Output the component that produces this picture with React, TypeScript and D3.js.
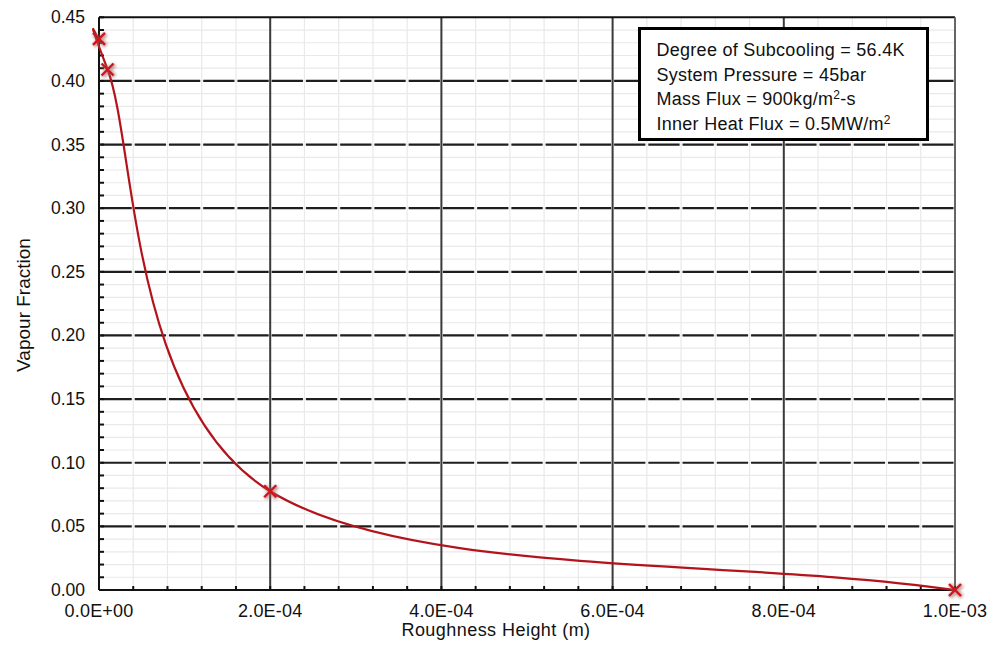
import React from "react";
import * as d3 from "d3";

const roughness = [0, 1e-5, 2e-4, 1e-3];
const vapourFraction = [0.433, 0.409, 0.0776, 0.0];

const xTickValues = [0, 2e-4, 4e-4, 6e-4, 8e-4, 1e-3];
const xTickLabels = ["0.0E+00", "2.0E-04", "4.0E-04", "6.0E-04", "8.0E-04", "1.0E-03"];
const yTickValues = [0, 0.05, 0.1, 0.15, 0.2, 0.25, 0.3, 0.35, 0.4, 0.45];
const yTickLabels = ["0.00", "0.05", "0.10", "0.15", "0.20", "0.25", "0.30", "0.35", "0.40", "0.45"];

const W = 1003;
const H = 655;
const L = 99, R = 955, T = 17.3, B = 590;
const FONT = "'Liberation Sans', Arial, Helvetica, sans-serif";

// Excel-style smoothed line (uniform Catmull-Rom, reflected end points)
function excelSmooth(context: any) {
  let pts: number[][] = [];
  return {
    areaStart() {},
    areaEnd() {},
    lineStart() { pts = []; },
    point(x: number, y: number) { pts.push([+x, +y]); },
    lineEnd() {
      const n = pts.length;
      if (!n) return;
      context.moveTo(pts[0][0], pts[0][1]);
      if (n === 2) { context.lineTo(pts[1][0], pts[1][1]); return; }
      for (let i = 0; i < n - 1; i++) {
        const p1 = pts[i], p2 = pts[i + 1];
        const p0 = i > 0 ? pts[i - 1] : [2 * p1[0] - p2[0], 2 * p1[1] - p2[1]];
        const p3 = i + 2 < n ? pts[i + 2] : [2 * p2[0] - p1[0], 2 * p2[1] - p1[1]];
        context.bezierCurveTo(
          p1[0] + (p2[0] - p0[0]) / 6, p1[1] + (p2[1] - p0[1]) / 6,
          p2[0] - (p3[0] - p1[0]) / 6, p2[1] - (p3[1] - p1[1]) / 6,
          p2[0], p2[1]
        );
      }
    },
  };
}

export default function App() {
  const x = d3.scaleLinear().domain([0, 1e-3]).range([L, R]);
  const y = d3.scaleLinear().domain([0, 0.45]).range([B, T]);

  const minorX = d3.range(0, 26).map((i) => i * 0.4e-4);
  const minorY = d3.range(0, 46).map((i) => i * 0.01);

  const data = roughness.map((r, i) => [r, vapourFraction[i]] as [number, number]);
  const line = d3.line<[number, number]>()
    .x((d) => x(d[0]))
    .y((d) => y(d[1]))
    .curve(excelSmooth as any);

  const minorStep = x(0.4e-4) - x(0);
  const gap = 3;

  return (
    <svg width={W} height={H} style={{ position: "absolute", left: 0, top: 0, background: "#fff" }} fontFamily={FONT}>
      <defs>
        <filter id="halo" x="-50%" y="-50%" width="200%" height="200%">
          <feGaussianBlur in="SourceGraphic" stdDeviation="1.6" />
        </filter>
      </defs>
      {/* minor grid */}
      <g stroke="#e9e9e9" strokeWidth={1.2}>
        {minorX.map((v, i) => (
          <line key={"mx" + i} x1={x(v)} x2={x(v)} y1={T} y2={B} />
        ))}
        {minorY.map((v, i) => (
          <line key={"my" + i} x1={L} x2={R} y1={y(v)} y2={y(v)} />
        ))}
      </g>
      {/* major vertical grid */}
      <g stroke="#3a3a3a" strokeWidth={2}>
        {xTickValues.slice(1, -1).map((v, i) => (
          <line key={"vx" + i} x1={x(v)} x2={x(v)} y1={T} y2={B} />
        ))}
      </g>
      {/* major horizontal grid (dashed) */}
      <g stroke="#1e1e1e" strokeWidth={2.2} strokeDasharray={`${minorStep - gap} ${gap}`} strokeDashoffset={-gap / 2}>
        {yTickValues.slice(1, -1).map((v, i) => (
          <line key={"hy" + i} x1={L} x2={R} y1={y(v)} y2={y(v)} />
        ))}
      </g>
      {/* borders */}
      <line x1={L} x2={R} y1={T} y2={T} stroke="#111" strokeWidth={2} />
      <line x1={R} x2={R} y1={T} y2={B} stroke="#666" strokeWidth={2} />
      {/* axes */}
      <line x1={L} x2={L} y1={T} y2={B} stroke="#111" strokeWidth={2} />
      <line x1={L} x2={R} y1={B} y2={B} stroke="#111" strokeWidth={2} />
      <g stroke="#111" strokeWidth={2}>
        {minorY.map((v, i) => (
          <line key={"ty" + i} x1={L} x2={L + 5} y1={y(v)} y2={y(v)} />
        ))}
        {minorX.map((v, i) => (
          <line key={"tx" + i} x1={x(v)} x2={x(v)} y1={B} y2={B - 4} />
        ))}
      </g>
      {/* curve */}
      <path d={line(data) || ""} fill="none" stroke="#b3141c" strokeWidth={2.2} />
      {/* markers */}
      {data.map((d, i) => {
        const cx = x(d[0]), cy = y(d[1]);
        const s = 6;
        const p = `M${cx - s},${cy - s}L${cx + s},${cy + s}M${cx - s},${cy + s}L${cx + s},${cy - s}`;
        return (
          <g key={"m" + i}>
            <path d={p} stroke="#a06060" strokeWidth={5} opacity={0.6} filter="url(#halo)" transform="translate(1,1)" />
            <path d={p} stroke="#d0161c" strokeWidth={2.4} />
          </g>
        );
      })}
      {/* tick labels */}
      <g fill="#111">
        {yTickValues.map((v, i) => (
          <text key={"yl" + i} x={85} y={y(v)} textAnchor="end" dominantBaseline="central" fontSize={17.5}>
            {yTickLabels[i]}
          </text>
        ))}
        {xTickValues.map((v, i) => (
          <text key={"xl" + i} x={x(v)} y={617} textAnchor="middle" fontSize={18} letterSpacing={0.2}>
            {xTickLabels[i]}
          </text>
        ))}
      </g>
      {/* axis titles */}
      <text x={496} y={636} textAnchor="middle" fontSize={18} letterSpacing={0.45} fill="#111">Roughness Height (m)</text>
      <text transform={`translate(30,305) rotate(-90)`} textAnchor="middle" fontSize={19} fill="#111">Vapour Fraction</text>
      {/* annotation box */}
      <rect x={639.5} y={28.5} width={288} height={111} fill="#fff" stroke="#000" strokeWidth={3} />
      <g fontSize={18} letterSpacing={0.27} fill="#111">
        <text x={656.5} y={56}>Degree of Subcooling = 56.4K</text>
        <text x={656.5} y={80.5}>System Pressure = 45bar</text>
        <text x={656.5} y={105}>
          Mass Flux = 900kg/m<tspan fontSize={12} dy={-6}>2</tspan><tspan dy={6}>-s</tspan>
        </text>
        <text x={656.5} y={129.5}>
          Inner Heat Flux = 0.5MW/m<tspan fontSize={12} dy={-6}>2</tspan>
        </text>
      </g>
    </svg>
  );
}
